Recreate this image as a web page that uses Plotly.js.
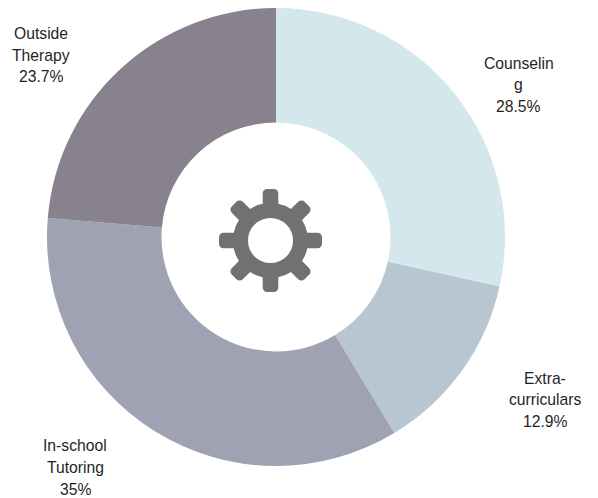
<!DOCTYPE html>
<html>
<head>
<meta charset="utf-8">
<script src="https://cdn.plot.ly/plotly-3.0.1.min.js"></script>
<style>html,body{margin:0;padding:0;background:#fff}#chart{width:598px;height:498px}</style>
</head>
<body>
<div id="chart"></div>
<script>
// Share of support services, clockwise from twelve o'clock
const categories = ["Counseling", "Extra-curriculars", "In-school Tutoring", "Outside Therapy"];
const shares = [28.5, 12.9, 35, 23.7];
const sliceColors = ["#d3e7ed", "#b8c6d2", "#9fa2b2", "#88818e"];
const labelLines = [
  ["Counselin", "g", "28.5%"],
  ["Extra-", "curriculars", "12.9%"],
  ["In-school", "Tutoring", "35%"],
  ["Outside", "Therapy", "23.7%"]
];
const labelAnchors = [[518.5, 63], [545, 378], [75, 445.8], [41, 33.5]];
const lineStep = 21.6;

const W = 598, H = 498;

// Each label line is its own annotation so the leading can be set freely
const annotations = [];
labelLines.forEach((lines, i) => {
  lines.forEach((text, j) => {
    annotations.push({
      text,
      xref: "paper", yref: "paper",
      x: labelAnchors[i][0] / W,
      y: 1 - (labelAnchors[i][1] + j * lineStep) / H,
      xanchor: "center", yanchor: "middle",
      showarrow: false,
      borderpad: 0,
      font: {family: "Liberation Sans, Arial, sans-serif", size: 15.7, color: "#1f1f1f"}
    });
  });
});

// Gear icon in the hole: ring plus eight rounded teeth
const teeth = [0, 45, 90, 135, 180, 225, 270, 315].map(a =>
  `<rect x="92.2" y="48.5" width="15.6" height="24" rx="4.5" transform="rotate(${a} 100 100)"/>`
).join("");
const gearSvg = `<svg xmlns="http://www.w3.org/2000/svg" width="200" height="200" viewBox="0 0 200 200"><g fill="#707172">${teeth}</g><circle cx="100" cy="100" r="30" fill="none" stroke="#707172" stroke-width="15"/></svg>`;

const trace = {
  type: "pie",
  labels: categories,
  values: shares,
  hole: 0.5,
  sort: false,
  direction: "clockwise",
  rotation: 0,
  textinfo: "none",
  hoverinfo: "label+percent",
  marker: {colors: sliceColors, line: {width: 0}},
  domain: {x: [47 / W, 505 / W], y: [1 - 466 / H, 1 - 8 / H]}
};

const layout = {
  width: W, height: H,
  margin: {l: 0, r: 0, t: 0, b: 0},
  paper_bgcolor: "#fff",
  showlegend: false,
  annotations,
  images: [{
    source: "data:image/svg+xml;utf8," + encodeURIComponent(gearSvg),
    xref: "paper", yref: "paper",
    x: 270.5 / W, y: 1 - 240.5 / H,
    sizex: 200 / W, sizey: 200 / H,
    xanchor: "center", yanchor: "middle",
    layer: "above"
  }]
};

Plotly.newPlot("chart", [trace], layout, {displayModeBar: false});
</script>
</body>
</html>
